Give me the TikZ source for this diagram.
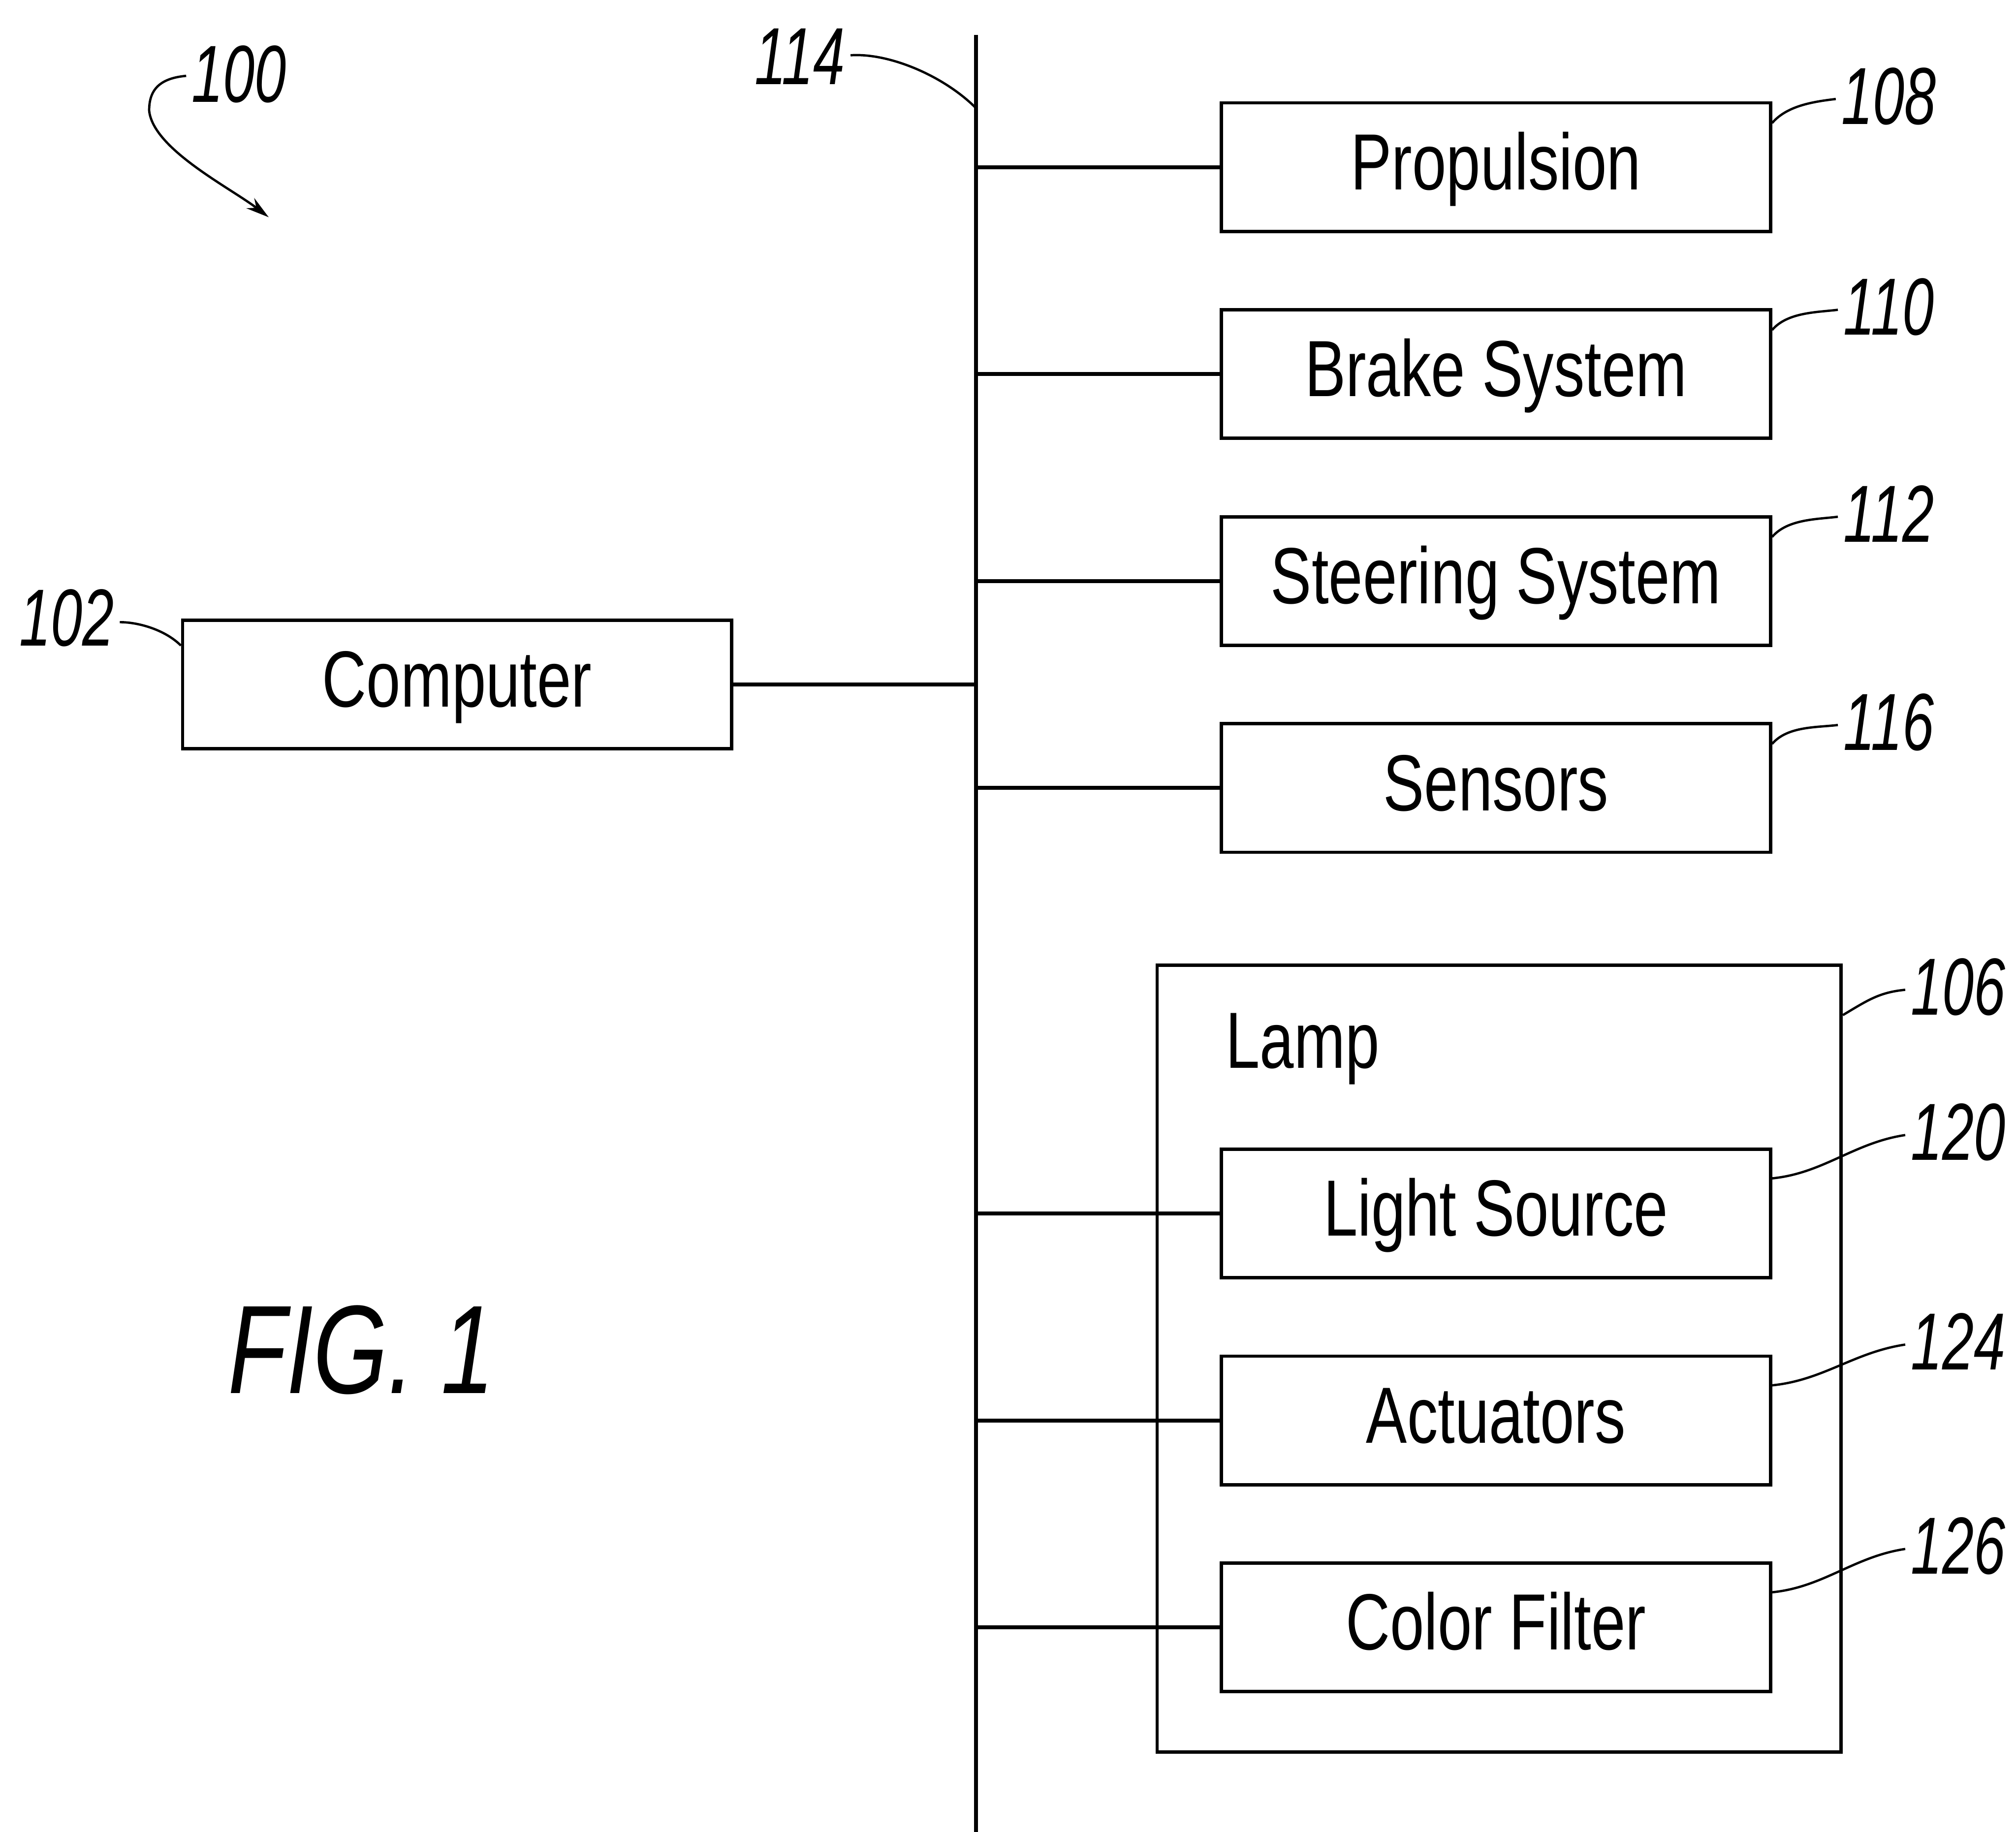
\documentclass[tikz,border=0pt]{standalone}
\usepackage{fontspec}
\setmainfont{Liberation Sans}[FakeStretch=0.77]
\newfontfamily\refnumfont{Liberation Sans}[FakeStretch=0.70]
\newfontfamily\figfont{Liberation Sans}[FakeStretch=0.76]
\usetikzlibrary{arrows.meta}

\begin{document}
\begin{tikzpicture}[x=0.5pt,y=-0.5pt,
  block/.style={draw, line width=1.3pt, minimum width=213.5pt, minimum height=50pt,
    inner sep=0pt, font=\fontsize{31}{31}\selectfont, text height=22.2pt, text depth=4.7pt},
  frame/.style={draw, line width=1.3pt, inner sep=0pt},
  wire/.style={line width=1.5pt},
  leader/.style={line width=0.9pt},
  refnum/.style={inner sep=0pt, font=\refnumfont\itshape\fontsize{31.5}{31.5}\selectfont,
    text height=22.5pt, text depth=0pt}]

% page
\fill[white] (0,0) rectangle (1568,1425);
\useasboundingbox (0,0) rectangle (1568,1425);

% communication bus
\coordinate (bustop) at (759,27);
\coordinate (busbot) at (759,1425);
\draw[wire] (bustop) -- (busbot);

% blocks
\node[block] (comp)  at (355.5,532.5) {Computer};
\node[block] (prop)  at (1163.5,130)  {Propulsion};
\node[block] (brake) at (1163.5,291)  {Brake System};
\node[block] (steer) at (1163.5,452)  {Steering System};
\node[block] (sens)  at (1163.5,613)  {Sensors};

\node[frame, minimum width=266pt, minimum height=306pt] (lamp) at (1166,1057) {};
\node[anchor=base west, inner sep=0pt, font=\fontsize{31}{31}\selectfont] (lamptext) at (953,831) {Lamp};
\node[block] (light) at (1163.5,944)  {Light Source};
\node[block] (act)   at (1163.5,1105) {Actuators};
\node[block] (filt)  at (1163.5,1266) {Color Filter};

% bus connections
\draw[wire] (comp.east) -- (comp.east -| bustop);
\foreach \n in {prop,brake,steer,sens,light,act,filt}
  \draw[wire] (\n.west) -- (\n.west -| bustop);

% reference numerals
\node[refnum] (r100) at (186,57)   {100};
\node[refnum] (r114) at (622,43)   {114};
\node[refnum] (r102) at (52,480)   {102};
\node[refnum] (r108) at (1469,74)  {108};
\node[refnum] (r110) at (1469,238) {110};
\node[refnum] (r112) at (1469,399) {112};
\node[refnum] (r116) at (1469,561) {116};
\node[refnum] (r106) at (1523,767) {106};
\node[refnum] (r120) at (1523,880) {120};
\node[refnum] (r124) at (1523,1043) {124};
\node[refnum] (r126) at (1523,1202) {126};

% leader lines
\coordinate (sysarrow) at (209,169);
\draw[leader, -{Stealth[length=9pt,width=5pt]}]
  ([xshift=-2pt,yshift=-1pt]r100.west) .. controls +(-22,2) and +(0,-15) .. (116,86)
  .. controls +(3,30) and +(-30,-23) .. (sysarrow);
\draw[leader] ([xshift=2pt]r114.east) .. controls +(30,-2) and +(-25,-25) .. ([yshift=-28.5pt]bustop);
\draw[leader] ([xshift=2pt,yshift=-2pt]r102.east) .. controls +(15,0) and +(-12,-12) .. ([yshift=-10.5pt]comp.north west);

\foreach \b/\r in {prop/r108,brake/r110,steer/r112,sens/r116}
  \draw[leader] ([yshift=-8.5pt]\b.north east) .. controls +(12,-14) and +(-16,2)
    .. ([xshift=-2pt,yshift=-1.5pt]\r.west);
\draw[leader] ([yshift=-20pt]lamp.north east) .. controls +(20,-12) and +(-20,2)
  .. ([xshift=-2pt,yshift=-1.5pt]r106.west);
\foreach \b/\r in {light/r120,act/r124,filt/r126}
  \draw[leader] ([yshift=-12pt]\b.north east) .. controls +(40,-4) and +(-40,6)
    .. ([xshift=-2pt,yshift=-1.5pt]\r.west);

% figure caption
\node[anchor=base, inner sep=0pt, font=\figfont\itshape\fontsize{49}{49}\selectfont] (fig) at (281,1084) {FIG. 1};
\end{tikzpicture}
\end{document}
